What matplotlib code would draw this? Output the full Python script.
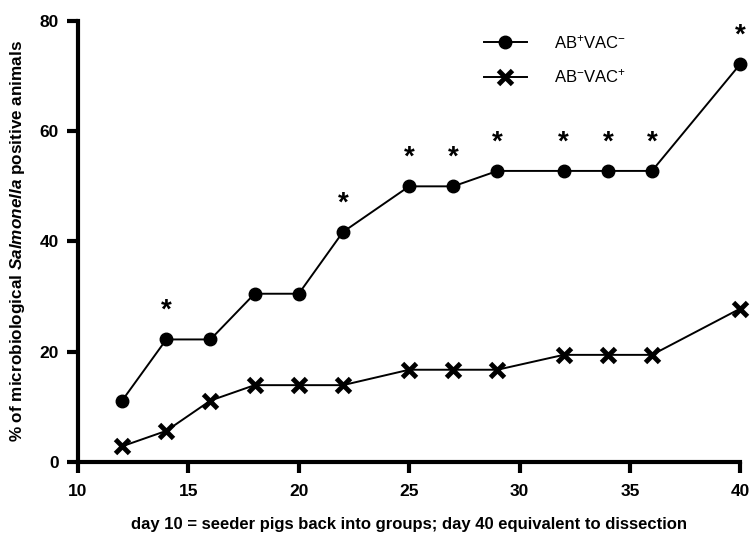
import numpy as np
import matplotlib.pyplot as plt

plt.rcParams['font.family'] = ['Liberation Sans', 'DejaVu Sans']
plt.rcParams['mathtext.fontset'] = 'custom'
plt.rcParams['mathtext.rm'] = 'Liberation Sans'
plt.rcParams['mathtext.it'] = 'Liberation Sans:italic:bold'
plt.rcParams['mathtext.bf'] = 'Liberation Sans:bold'

days = [12, 14, 16, 18, 20, 22, 25, 27, 29, 32, 34, 36, 40]
ab_pos_vac_neg = [11.1, 22.2, 22.2, 30.5, 30.5, 41.7, 50.0, 50.0, 52.8, 52.8, 52.8, 52.8, 72.2]
ab_neg_vac_pos = [2.8, 5.6, 11.1, 13.9, 13.9, 13.9, 16.7, 16.7, 16.7, 19.4, 19.4, 19.4, 27.8]
# days with significant difference
sig_days = [14, 22, 25, 27, 29, 32, 34, 36, 40]

fig = plt.figure(figsize=(7.5, 5.36), dpi=100)
ax = fig.add_axes([0.104, 0.1386, 0.883, 0.822])

ax.plot(days, ab_pos_vac_neg, color='black', lw=1.4, marker='o', ms=9,
        label=r'AB$^{+}$VAC$^{-}$', clip_on=False, zorder=3)
ax.plot(days, ab_neg_vac_pos, color='black', lw=1.4, marker='x', ms=10, mew=3.5,
        label=r'AB$^{-}$VAC$^{+}$', clip_on=False, zorder=3)

for d in sig_days:
    y = ab_pos_vac_neg[days.index(d)]
    ax.text(d, y + 5.2, '*', ha='center', va='center', fontsize=20, fontweight='bold')

ax.set_xlim(10, 40)
ax.set_ylim(0, 80)
ax.set_xticks([10, 15, 20, 25, 30, 35, 40])
ax.set_yticks([0, 20, 40, 60, 80])
for s in ['top', 'right']:
    ax.spines[s].set_visible(False)
for s in ['left', 'bottom']:
    ax.spines[s].set_linewidth(3)
ax.tick_params(width=3, length=8, labelsize=12.5, pad=6)
ax.tick_params(axis='x', pad=8)
for lab in ax.get_xticklabels() + ax.get_yticklabels():
    lab.set_fontweight('bold')

ax.set_xlabel('day 10 = seeder pigs back into groups; day 40 equivalent to dissection',
              fontsize=12, fontweight='bold', labelpad=13)
ax.set_ylabel(r'% of microbiological $\it{Salmonella}$ positive animals',
              fontsize=12.3, fontweight='bold', labelpad=9)

ax.legend(loc='upper left', bbox_to_anchor=(0.590, 1.007), frameon=False,
          fontsize=12, handlelength=2.6, handletextpad=1.6, labelspacing=1.0)

fig.savefig('out.png', dpi=100)
